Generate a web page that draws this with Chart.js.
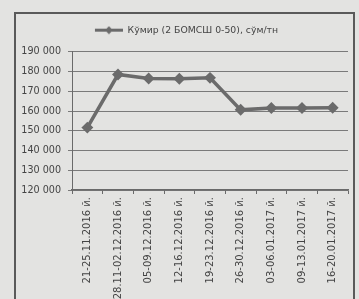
<!DOCTYPE html>
<html>
<head>
<meta charset="utf-8">
<script src="https://cdn.jsdelivr.net/npm/chart.js@4.4.0/dist/chart.umd.min.js"></script>
<style>
  html, body { margin: 0; padding: 0; background: #e3e3e1; }
  #frame { position: absolute; left: 14px; top: 12px; width: 337px; height: 300px; border: 2px solid #5a5a5a; border-bottom: none; }
  #wrap { position: absolute; left: 0; top: 0; width: 359px; height: 299px; }
</style>
</head>
<body>
<div id="frame"></div>
<div id="wrap"><canvas id="chart" width="359" height="299"></canvas></div>
<script>
const weeks = [
  "21-25.11.2016 й.", "28.11-02.12.2016 й.", "05-09.12.2016 й.", "12-16.12.2016 й.",
  "19-23.12.2016 й.", "26-30.12.2016 й.", "03-06.01.2017 й.", "09-13.01.2017 й.", "16-20.01.2017 й."
];
const prices = [151600, 178500, 176500, 176400, 176800, 160600, 161500, 161500, 161700];
const seriesName = "Кўмир (2 БОМСШ 0-50), сўм/тн";

const ink = '#6b6b6b';

// legend marker: short line with a diamond, with empty room on the left
// so the legend sits a bit right of centre like in the source
const mark = document.createElement('canvas');
mark.width = 49; mark.height = 9;
const m = mark.getContext('2d');
m.strokeStyle = ink; m.lineWidth = 3;
m.beginPath(); m.moveTo(21, 4.5); m.lineTo(49, 4.5); m.stroke();
m.fillStyle = ink;
m.beginPath(); m.moveTo(35, 0.5); m.lineTo(39, 4.5); m.lineTo(35, 8.5); m.lineTo(31, 4.5); m.closePath(); m.fill();

// extra room under the legend
const legendGap = {
  id: 'legendGap',
  afterInit(chart) {
    const fit = chart.legend.fit;
    chart.legend.fit = function () { fit.call(this); this.height += 7; };
  }
};

new Chart(document.getElementById('chart').getContext('2d'), {
  type: 'line',
  data: {
    labels: weeks,
    datasets: [{
      label: seriesName,
      data: prices,
      borderColor: ink,
      backgroundColor: ink,
      borderWidth: 3.5,
      pointStyle: 'rectRot',
      pointRadius: 3.5,
      tension: 0,
      fill: false
    }]
  },
  plugins: [legendGap],
  options: {
    responsive: false,
    animation: false,
    layout: { padding: { left: 4, right: 11, top: 9, bottom: 0 } },
    plugins: {
      legend: {
        labels: {
          color: '#444',
          font: { family: 'DejaVu Sans', size: 9.3 },
          usePointStyle: true,
          pointStyleWidth: 49,
          padding: 16.5,
          generateLabels: chart => chart.data.datasets.map((d, i) => ({
            text: d.label,
            pointStyle: mark,
            fontColor: '#444',
            lineWidth: 0,
            datasetIndex: i
          }))
        }
      },
      tooltip: { enabled: false }
    },
    scales: {
      y: {
        min: 120000,
        max: 190000,
        afterFit: s => { s.width = 68; },
        ticks: {
          stepSize: 10000,
          padding: 7,
          color: '#444',
          font: { family: 'DejaVu Sans', size: 9.6 },
          callback: v => String(v).replace(/\B(?=(\d{3})+(?!\d))/g, ' ')
        },
        grid: { color: '#7a7a7a', tickLength: 4 },
        border: { color: '#6a6a6a' }
      },
      x: {
        offset: true,
        afterFit: s => { s.height = 109; },
        ticks: {
          minRotation: 90,
          maxRotation: 90,
          autoSkip: false,
          color: '#444',
          font: { family: 'DejaVu Sans', size: 10 }
        },
        grid: { offset: true, drawOnChartArea: false, tickLength: 4, color: '#6a6a6a' },
        border: { color: '#6a6a6a', width: 1.5 }
      }
    }
  }
});
</script>
</body>
</html>
